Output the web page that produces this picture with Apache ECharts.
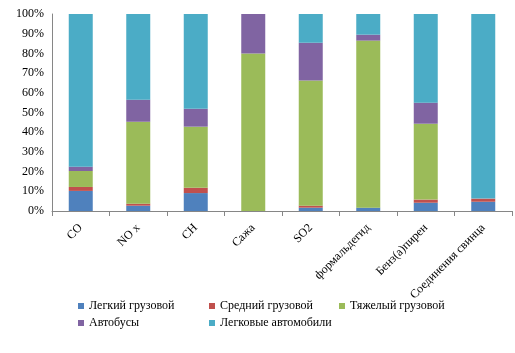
<!DOCTYPE html>
<html>
<head>
<meta charset="utf-8">
<script src="https://cdn.jsdelivr.net/npm/echarts@6/dist/echarts.min.js"></script>
<style>
  html, body { margin: 0; padding: 0; background: #fff; }
  #chart { width: 515px; height: 353px; }
</style>
</head>
<body>
<div id="chart"></div>
<script>
// Категории и доли (%) по типам транспорта
var categories = ["CO", "NO x", "CH", "Сажа", "SO2", "формальдегид", "Бенз(а)пирен", "Соединения свинца"];
var legkiyGruz = [10.2, 2.7, 9.1, 0, 1.7, 1.7, 4.2, 4.7];
var sredniyGruz = [2.0, 1.0, 2.7, 0, 1.0, 0, 1.6, 1.6];
var tyazhelyGruz = [8.1, 41.6, 31.0, 79.9, 63.5, 84.8, 38.5, 0];
var avtobusy = [2.2, 11.2, 9.1, 20.1, 19.2, 3.0, 10.7, 0];
var legkovye = [77.5, 43.5, 48.1, 0, 14.6, 10.5, 45.0, 93.7];

var seriesNames = ["Легкий грузовой", "Средний грузовой", "Тяжелый грузовой", "Автобусы", "Легковые автомобили"];
var colors = ["#4F81BD", "#C0504D", "#9BBB59", "#8064A2", "#4BACC6"];
var seriesData = [legkiyGruz, sredniyGruz, tyazhelyGruz, avtobusy, legkovye];

var font = "Liberation Serif";
var chart = echarts.init(document.getElementById("chart"));

// позиции легенды: две строки, три колонки
var legendPos = [[78, 300], [209, 300], [339, 300], [78, 317], [209, 317]];
var legends = seriesNames.map(function (name, i) {
    return {
        data: [name],
        left: legendPos[i][0],
        top: legendPos[i][1],
        itemWidth: 6,
        itemHeight: 6,
        itemGap: 0,
        icon: "rect",
        padding: 0,
        textStyle: { fontFamily: font, fontSize: 12, color: "#000", padding: [0, 0, 0, 0] }
    };
});

var option = {
    animation: false,
    backgroundColor: "#fff",
    color: colors,
    legend: legends,
    grid: { left: 52, top: 14, right: 3, bottom: 142 },
    xAxis: {
        type: "category",
        data: categories,
        axisLine: { lineStyle: { color: "#868686" } },
        axisTick: { show: true, length: 5, lineStyle: { color: "#868686" } },
        axisLabel: { rotate: 45, interval: 0, fontFamily: font, fontSize: 12, color: "#000", margin: 15 }
    },
    yAxis: {
        type: "value",
        min: 0,
        max: 100,
        interval: 10,
        axisLine: { show: true, lineStyle: { color: "#868686" } },
        axisTick: { show: false },
        splitLine: { show: false },
        axisLabel: { formatter: "{value}%", fontFamily: font, fontSize: 12, color: "#000", margin: 8 }
    },
    series: seriesNames.map(function (name, i) {
        return {
            name: name,
            type: "bar",
            stack: "total",
            barWidth: 24,
            data: seriesData[i]
        };
    })
};

chart.setOption(option);
</script>
</body>
</html>
